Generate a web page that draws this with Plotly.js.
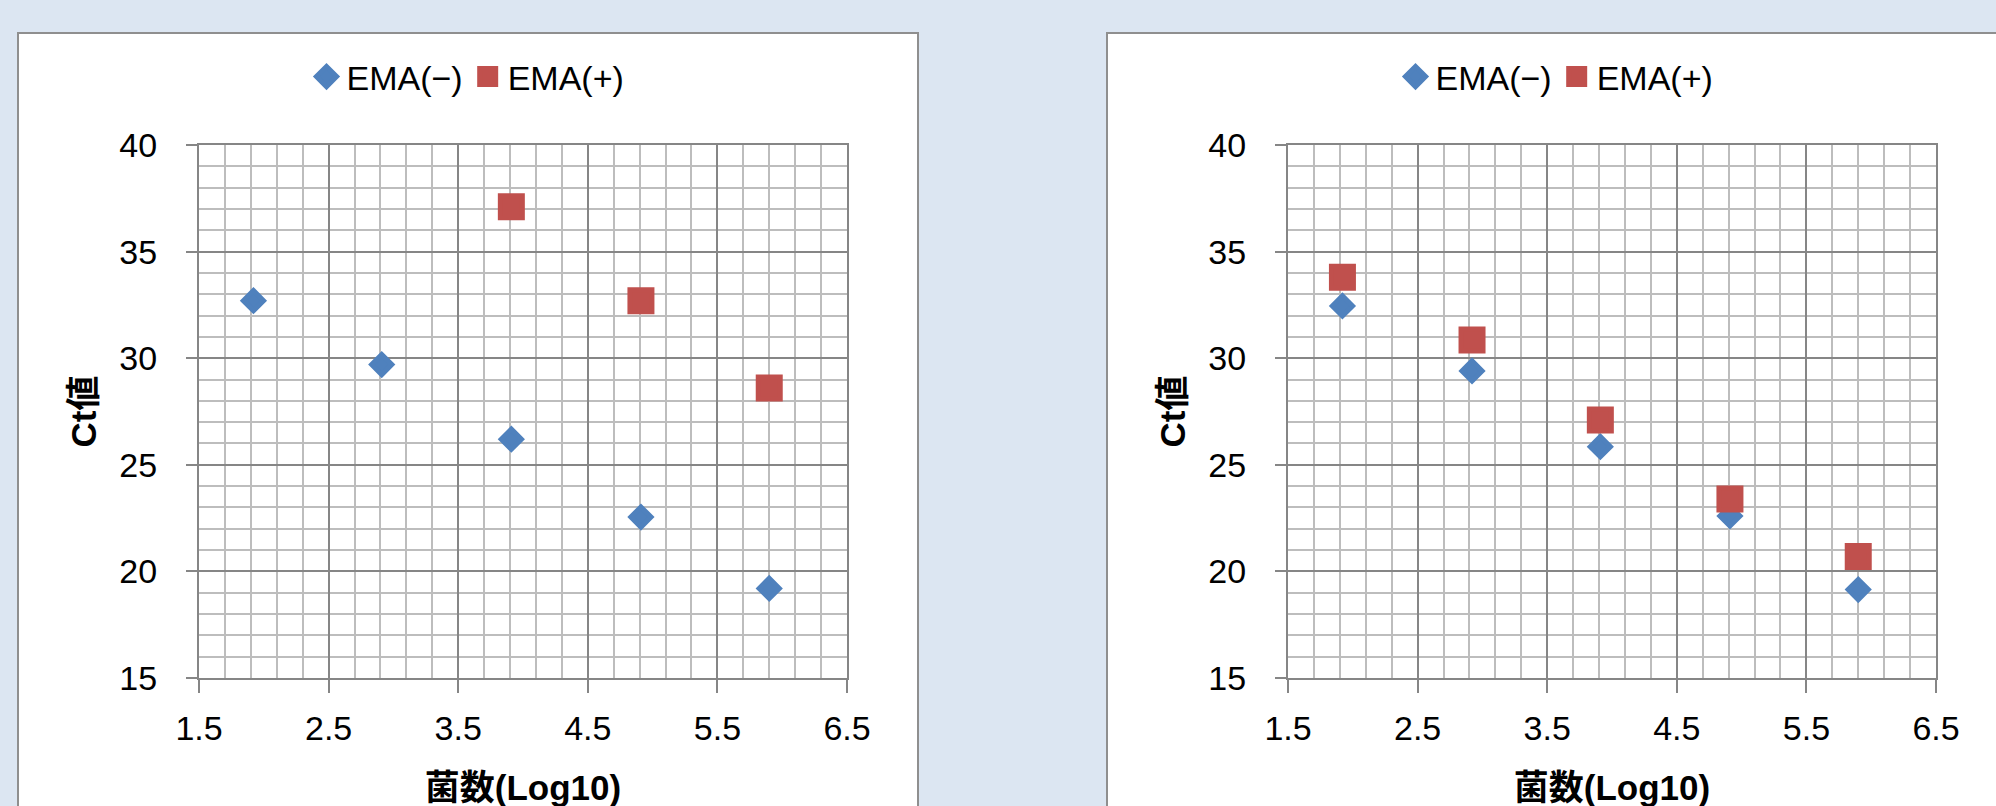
<!DOCTYPE html>
<html><head><meta charset="utf-8">
<script src="https://cdn.plot.ly/plotly-3.0.1.min.js"></script>
<style>
html,body{margin:0;padding:0;background:#dce6f2;width:1996px;height:806px;overflow:hidden;}
.panel{position:absolute;top:32px;width:898px;height:780px;border:2px solid #8f8f8f;background:#fff;}
#p1{left:17px;}
#p2{left:1106px;}
</style></head><body>
<div id="p1" class="panel"></div>
<div id="p2" class="panel"></div>
<script>
// ---- data ----
const seriesNames = ['EMA(−)', 'EMA(+)'];
const seriesColors = ['#4f81bd', '#c0504d'];
const leftX_minus  = [1.92, 2.91, 3.91, 4.91, 5.90];
const leftCt_minus = [32.7, 29.7, 26.2, 22.55, 19.2];
const leftX_plus   = [3.91, 4.91, 5.90];
const leftCt_plus  = [37.1, 32.7, 28.6];
const rightX        = [1.92, 2.92, 3.91, 4.91, 5.90];
const rightCt_minus = [32.45, 29.4, 25.85, 22.6, 19.15];
const rightCt_plus  = [33.8, 30.85, 27.1, 23.4, 20.7];
const xTitle = '菌数(Log10)';
const yTitle = 'Ct値';
const xRange = [1.5, 6.5];
const yRange = [15, 40];

const FONT = 'Liberation Sans, Arial, Noto Sans CJK JP, sans-serif';
const MAJOR = '#868686';
const MINOR = '#bdbdbd';

function traces(xm, ym, xp, yp) {
  return [
    {type:'scatter', mode:'markers', name:seriesNames[0], x:xm, y:ym,
     marker:{symbol:'diamond', size:15.5, color:seriesColors[0], line:{width:5, color:seriesColors[0]}}, hoverinfo:'x+y'},
    {type:'scatter', mode:'markers', name:seriesNames[1], x:xp, y:yp,
     marker:{symbol:'square', size:22, color:seriesColors[1], line:{width:5, color:seriesColors[1]}}, hoverinfo:'x+y'}
  ];
}

function makeLayout() {
  return {
    width: 898, height: 780,
    margin: {l:180, r:70, t:111, b:136, pad:0},
    paper_bgcolor:'#ffffff', plot_bgcolor:'#ffffff',
    font:{family:FONT, color:'#000', size:34},
    showlegend:true,
    legend:{orientation:'h', xref:'container', yref:'container', x:0.5, xanchor:'center',
            y:1 - 43/780, yanchor:'middle', font:{size:34, family:FONT, color:'#000'},
            bgcolor:'rgba(0,0,0,0)', traceorder:'normal', itemclick:false, itemdoubleclick:false},
    xaxis:{range:xRange, tick0:1.5, dtick:1, tickformat:'.1f', ticks:'outside', ticklen:13, tickwidth:2,
           tickcolor:MAJOR, showline:true, mirror:true, linecolor:MAJOR, linewidth:2,
           showgrid:true, gridcolor:MAJOR, gridwidth:2, zeroline:false,
           minor:{dtick:0.2, tick0:1.5, showgrid:true, gridcolor:MINOR, gridwidth:2, ticks:''},
           tickfont:{size:34, family:FONT, color:'#000'}, ticklabelstandoff:6,
           title:{text:xTitle, font:{size:35, family:FONT, weight:700, color:'#000'}, standoff:30},
           fixedrange:true},
    yaxis:{range:yRange, tick0:15, dtick:5, ticks:'outside', ticklen:11, tickwidth:2,
           tickcolor:MAJOR, showline:true, mirror:true, linecolor:MAJOR, linewidth:2,
           showgrid:true, gridcolor:MAJOR, gridwidth:2, zeroline:false,
           minor:{dtick:1, tick0:15, showgrid:true, gridcolor:MINOR, gridwidth:2, ticks:''},
           tickfont:{size:34, family:FONT, color:'#000'}, ticklabelstandoff:22,
           title:{text:yTitle, font:{size:35, family:FONT, weight:700, color:'#000'}, standoff:12},
           fixedrange:true}
  };
}

const cfg = {displayModeBar:false, staticPlot:true};
Plotly.newPlot('p1', traces(leftX_minus, leftCt_minus, leftX_plus, leftCt_plus), makeLayout(), cfg);
Plotly.newPlot('p2', traces(rightX, rightCt_minus, rightX, rightCt_plus), makeLayout(), cfg);
</script>
</body></html>
